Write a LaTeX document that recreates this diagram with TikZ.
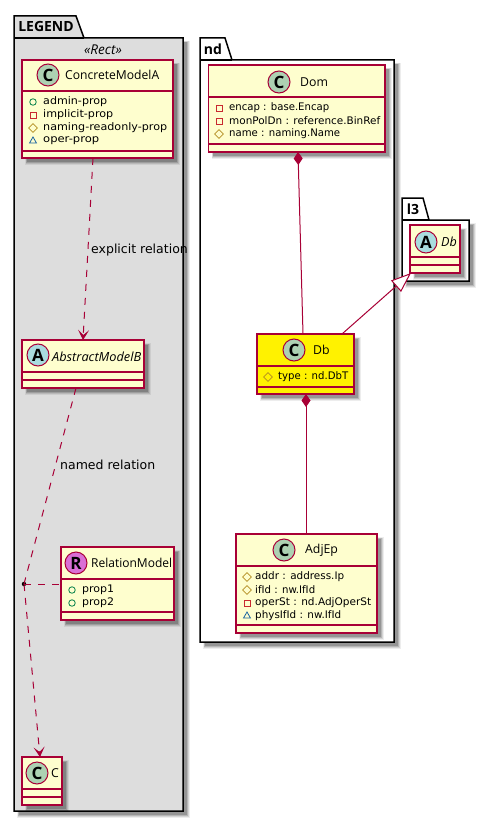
\documentclass[tikz,border=0pt]{standalone}
\usepackage{graphicx}
\usepackage{fontspec}
\setmainfont{DejaVu Sans}
\newfontfamily\titlefont{Open Sans}
\usetikzlibrary{arrows.meta,calc,shapes.geometric}
\definecolor{umlline}{HTML}{A80036}
\definecolor{umlfill}{HTML}{FEFECE}
\definecolor{spotC}{HTML}{ADD1B2}
\definecolor{spotA}{HTML}{A9DCDF}
\definecolor{spotR}{HTML}{DA6FD5}
\definecolor{legendgray}{HTML}{DDDDDD}
\definecolor{pubc}{HTML}{038048}
\definecolor{privc}{HTML}{C82930}
\definecolor{protc}{HTML}{B38D22}
\definecolor{pkgc}{HTML}{1963A0}
\tikzset{
  classbox/.style={draw=umlline,line width=1.1pt,inner sep=0pt,outer sep=0pt},
  divider/.style={draw=umlline,line width=1.1pt},
  spot/.style={circle,draw=umlline,line width=1pt,minimum size=22pt,inner sep=0pt,font=\titlefont\fontsize{17}{17}\selectfont\bfseries},
  title/.style={anchor=west,inner sep=0pt,font=\titlefont\fontsize{12.3}{14}\selectfont},
  italictitle/.style={anchor=west,inner sep=0pt,font=\titlefont\fontsize{12.6}{14}\selectfont\itshape},
  attr/.style={anchor=west,inner sep=0pt,font=\fontsize{10.4}{12}\selectfont},
  pkgshape/.style={draw=black,line width=1.5pt},
  pkgtitle/.style={anchor=center,inner sep=0pt,font=\titlefont\fontsize{14}{15}\selectfont\bfseries},
  rel/.style={draw=umlline,line width=1pt},
  reldash/.style={rel,dash pattern=on 7pt off 7pt},
  openhead/.style={-{Stealth[length=10pt,width=11pt,inset=5pt,umlline]}},
  filledtail/.style={{Diamond[length=13pt,width=9pt,umlline]}-},
  hollowhead/.style={-{Triangle[length=20pt,width=15pt,open,fill=white,umlline]}},
  edgelabel/.style={anchor=west,inner sep=0pt,font=\fontsize{12.5}{14}\selectfont},
  pubmark/.style={circle,draw=pubc,line width=.8pt,minimum size=6.5pt,inner sep=0pt},
  privmark/.style={rectangle,draw=privc,line width=.8pt,minimum size=6pt,inner sep=0pt},
  protmark/.style={diamond,draw=protc,line width=.8pt,minimum size=9pt,inner sep=0pt},
  pkgmark/.style={isosceles triangle,isosceles triangle apex angle=60,shape border rotate=90,draw=pkgc,line width=.8pt,minimum size=6pt,inner sep=0pt},
}
% soft drop shadow of a rectangle
\newcommand{\softshadow}[4]{%
  \fill[black,opacity=.07] (#1+3,#2+3) rectangle (#3+7,#4+7);
  \fill[black,opacity=.10] (#1+3.5,#2+3.5) rectangle (#3+6,#4+6);
  \fill[black,opacity=.14] (#1+4,#2+4) rectangle (#3+5,#4+5);
  \fill[black,opacity=.18] (#1+4.5,#2+4.5) rectangle (#3+4,#4+4);
}
% name, x1, y1, x2, y2, fill, div1, div2
\newcommand{\umlclass}[8]{%
  \softshadow{#2}{#3}{#4}{#5}
  \node[classbox,fill=#6,minimum width={#4-#2},minimum height={#5-#3}] (#1) at ({(#2+#4)/2},{(#3+#5)/2}) {};
  \draw[divider] (#2,#7) -- (#4,#7);
  \draw[divider] (#2,#8) -- (#4,#8);
}
\newcommand{\attrline}[6]{% markstyle, markx, textx, y, text width, text
  \node[#1] at (#2,#4) {};
  \node[attr] at (#3,#4) {\resizebox{#5pt}{\height}{#6}};
}
\begin{document}
\begin{tikzpicture}[x=1pt,y=-1pt]
\useasboundingbox (0,0) rectangle (489,824);
\fill[white] (0,0) rectangle (489,824);

% LEGEND package
\softshadow{14}{38}{183}{811}
\draw[pkgshape,fill=legendgray] (14,38) -- (14,16) -- (76,16) -- (84,38) -- (183,38) -- (183,811) -- (14,811) -- cycle;
\draw[pkgshape] (14,38) -- (84,38);
\node[pkgtitle] (legendname) at (46,27) {LEGEND};
\node[anchor=center,inner sep=0pt,font=\titlefont\fontsize{13.5}{14}\selectfont\itshape] (rectname) at (103,50) {«Rect»};

% nd package
\softshadow{200}{60}{394}{642}
\draw[pkgshape,fill=white] (200,60) -- (200,38) -- (225,38) -- (232,60) -- (394,60) -- (394,642) -- (200,642) -- cycle;
\draw[pkgshape] (200,60) -- (232,60);
\node[pkgtitle] (ndname) at (213,49) {nd};

% l3 package
\softshadow{402}{220}{469}{281}
\draw[pkgshape,fill=white] (402,220) -- (402,198) -- (423,198) -- (429,220) -- (469,220) -- (469,281) -- (402,281) -- cycle;
\draw[pkgshape] (402,220) -- (429,220);
\node[pkgtitle] (lthreename) at (413,209) {l3};

% Classes
\umlclass{concrete}{22}{60}{173}{158}{umlfill}{91}{151}
\node[spot,fill=spotC] (concretespot) at (48,75) {C};
\node[title] (concretename) at (65,75) {\resizebox{94pt}{\height}{ConcreteModelA}};
\attrline{pubmark}{33}{43}{102}{64}{admin-prop}
\attrline{privmark}{33}{43}{115}{70}{implicit-prop}
\attrline{protmark}{33}{43}{128}{124}{naming-readonly-prop}
\attrline{pkgmark}{33}{43}{141}{56}{oper-prop}

\umlclass{abstract}{22}{340}{144}{388}{umlfill}{372}{380}
\node[spot,fill=spotA] (abstractspot) at (38,355) {A};
\node[italictitle] (abstractname) at (52,357) {\resizebox{89pt}{\height}{AbstractModelB}};

\umlclass{relation}{61}{547}{174}{620}{umlfill}{579}{612}
\node[spot,fill=spotR] (relationspot) at (76,563) {R};
\node[title] (relationname) at (91,563) {\resizebox{81pt}{\height}{RelationModel}};
\attrline{pubmark}{72}{82}{590}{32}{prop1}
\attrline{pubmark}{72}{82}{603}{32}{prop2}

\umlclass{cclass}{22}{757}{62}{805}{umlfill}{789}{797}
\node[spot,fill=spotC] (cspot) at (37,773) {C};
\node[title] (cname) at (51,773) {C};

\umlclass{dom}{208.5}{65}{385}{152}{umlfill}{97}{144}
\node[spot,fill=spotC] (domspot) at (279,82) {C};
\node[title] (domname) at (300,82) {Dom};
\attrline{privmark}{219}{229}{108}{100}{encap : base.Encap}
\attrline{privmark}{219}{229}{121}{151}{monPolDn : reference.BinRef}
\attrline{protmark}{219}{229}{134}{111}{name : naming.Name}

\umlclass{db}{257}{334}{354}{394}{yellow}{366}{387}
\node[spot,fill=spotC] (dbspot) at (294,350) {C};
\node[title] (dbname) at (313,350) {Db};
\attrline{protmark}{268}{278}{377}{70}{type : nd.DbT}

\umlclass{adjep}{236}{534}{377}{633}{umlfill}{566}{625}
\node[spot,fill=spotC] (adjepspot) at (284,550) {C};
\node[title] (adjepname) at (305,550) {AdjEp};
\attrline{protmark}{247}{255}{577}{89}{addr : address.Ip}
\attrline{protmark}{247}{255}{590}{60}{ifId : nw.IfId}
\attrline{privmark}{247}{255}{603}{116}{operSt : nd.AdjOperSt}
\attrline{pkgmark}{247}{255}{616}{86}{physIfId : nw.IfId}

\umlclass{lthreedb}{410}{225}{460}{273}{umlfill}{257}{265}
\node[spot,fill=spotA] (lthreespot) at (426,242) {A};
\node[italictitle] (lthreedbname) at (441,242) {Db};

% Connectors
\node[circle,fill=black,inner sep=0pt,minimum size=4.5pt] (dot) at (24,584) {};
\draw[reldash,openhead] ([xshift=-4.5pt]concrete.south) -- (abstract.north);
\node[edgelabel] (explicitlabel) at (91,250) {explicit relation};
\draw[reldash] ([xshift=-7pt]abstract.south) -- (dot.center);
\node[edgelabel] (namedlabel) at (60,465) {named relation};
\draw[reldash] (dot.center) -- (relation.west |- dot.center);
\draw[reldash,openhead] (dot.center) -- ([xshift=-2pt]cclass.north);
\draw[rel,filledtail] ([xshift=1.25pt]dom.south) -- ([xshift=-2.5pt]db.north);
\draw[rel,filledtail] ([xshift=.5pt]db.south) -- ([xshift=-.5pt]adjep.north);
\draw[rel,hollowhead] ([xshift=36.5pt]db.north) -- ([xshift=1pt]lthreedb.south west);
\end{tikzpicture}
\end{document}
